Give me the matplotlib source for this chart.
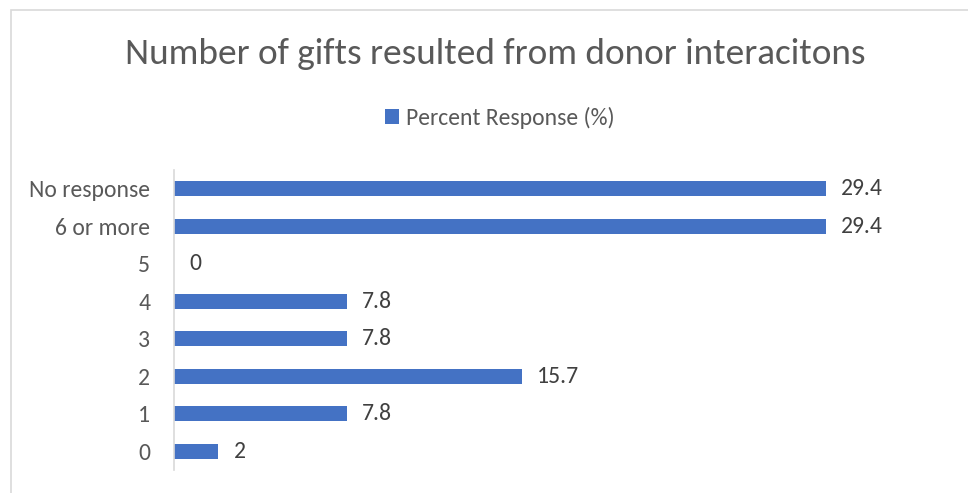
import matplotlib.pyplot as plt
from matplotlib.patches import Rectangle

plt.rcParams['font.family'] = ['Carlito', 'Lato', 'DejaVu Sans']

# donnees (du bas vers le haut)
categories = ['0', '1', '2', '3', '4', '5', '6 or more', 'No response']
valeurs = [2, 7.8, 15.7, 7.8, 7.8, 0, 29.4, 29.4]
serie = 'Percent Response (%)'
titre = 'Number of gifts resulted from donor interacitons'

bleu = '#4472C4'
gris = '#595959'

fig = plt.figure(figsize=(9.68, 4.93), dpi=100)
fig.patches.append(Rectangle((11/968, -0.1), 1.2, 1 - 10/493 + 0.1,
                             transform=fig.transFigure, fill=False,
                             edgecolor='#D9D9D9', linewidth=1.2))

ax = fig.add_axes([174/968, 1 - 470/493, 776/968, 300/493])
y = range(len(categories))
barres = ax.barh(y, valeurs, height=0.4, color=bleu, label=serie)

for yi, v in zip(y, valeurs):
    ax.annotate(f'{v:g}', (v, yi), xytext=(11, 0), textcoords='offset points',
                va='center', ha='left', fontsize=17, color='#404040')

ax.set_xlim(0, 35)
ax.set_ylim(-0.5, len(categories) - 0.5)
ax.set_yticks(list(y))
ax.set_yticklabels(categories, fontsize=17, color=gris)
ax.set_xticks([])
ax.tick_params(axis='y', length=0, pad=17)
for s in ['top', 'right', 'bottom']:
    ax.spines[s].set_visible(False)
ax.spines['left'].set_color('#D9D9D9')
ax.spines['left'].set_linewidth(1.2)

fig.text(495/968, 1 - 54/493, titre, ha='center', va='center', fontsize=26.8, color=gris)
fig.legend(handles=[barres], labels=[serie], loc='center', bbox_to_anchor=(500/968, 1 - 118/493),
           frameon=False, fontsize=17, labelcolor=gris, handlelength=0.6, handleheight=0.6,
           handletextpad=0.3)

plt.savefig('out.png', dpi=100)
